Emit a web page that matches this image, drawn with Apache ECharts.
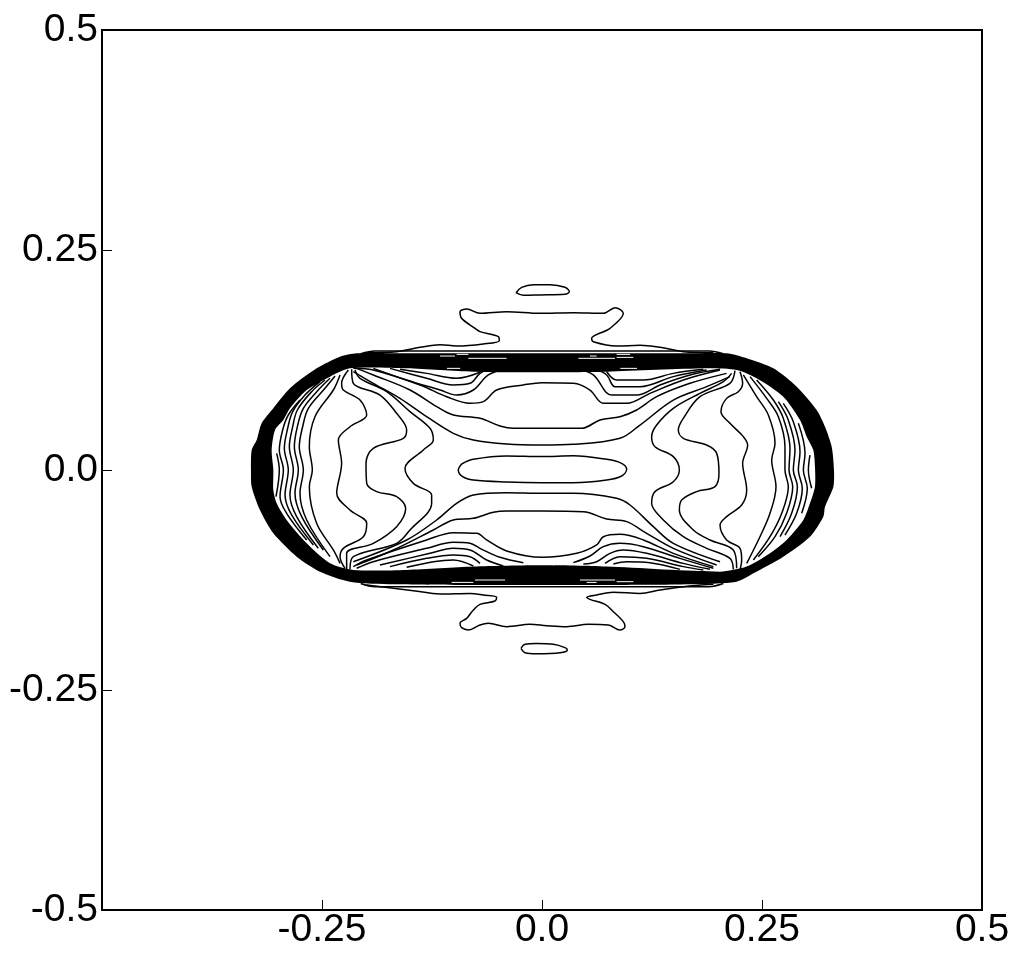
<!DOCTYPE html>
<html>
<head>
<meta charset="utf-8">
<title>contour</title>
<script src="https://cdn.jsdelivr.net/npm/echarts@6/dist/echarts.min.js"></script>
<style>
html, body { margin: 0; padding: 0; background: #fff; }
#chart { width: 1024px; height: 978px; }
</style>
</head>
<body>
<div id="chart"></div>
<script>
// tick labels
var xTickLabels = { '-0.25': '-0.25', '0': '0.0', '0.25': '0.25', '0.5': '0.5' };
var yTickLabels = { '-0.5': '-0.5', '-0.25': '-0.25', '0': '0.0', '0.25': '0.25', '0.5': '0.5' };

// isolated contours above and below the body
var lobeTop = [[-0.0295,0.2015],[-0.0231,0.2076],[-0.0098,0.2106],[0.0091,0.2106],[0.0261,0.2076],[0.0311,0.2027],[0.0261,0.1996],[-0.0023,0.1989],[-0.0212,0.1985],[-0.0295,0.2015]];
var lobeBottom = [[-0.0239,-0.2027],[-0.0193,-0.1981],[-0.0061,-0.1973],[0.0129,-0.1981],[0.0261,-0.2019],[0.0288,-0.2045],[0.0205,-0.2076],[-0.0061,-0.2087],[-0.0193,-0.2076],[-0.0239,-0.2027]];
var outerTop = [[-0.1992,0.1333],[-0.1652,0.1345],[-0.1386,0.1394],[-0.1159,0.1424],[-0.0970,0.1409],[-0.0667,0.1432],[-0.0485,0.1470],[-0.0496,0.1515],[-0.0705,0.1572],[-0.0761,0.1610],[-0.0913,0.1723],[-0.0932,0.1799],[-0.0856,0.1830],[-0.0705,0.1780],[-0.0402,0.1799],[-0.0023,0.1780],[0.0356,0.1788],[0.0697,0.1780],[0.0830,0.1845],[0.0924,0.1780],[0.0773,0.1610],[0.0564,0.1496],[0.0583,0.1458],[0.0848,0.1409],[0.1114,0.1417],[0.1341,0.1394],[0.1606,0.1345],[0.1947,0.1333]];
var outerBottom = [[-0.1992,-0.1307],[-0.1689,-0.1345],[-0.1462,-0.1371],[-0.1159,-0.1409],[-0.0818,-0.1402],[-0.0667,-0.1420],[-0.0515,-0.1447],[-0.0534,-0.1489],[-0.0705,-0.1527],[-0.0780,-0.1591],[-0.0856,-0.1686],[-0.0932,-0.1742],[-0.0913,-0.1792],[-0.0837,-0.1818],[-0.0705,-0.1761],[-0.0610,-0.1742],[-0.0402,-0.1780],[-0.0136,-0.1754],[0.0053,-0.1769],[0.0280,-0.1780],[0.0527,-0.1754],[0.0754,-0.1761],[0.0886,-0.1818],[0.0943,-0.1780],[0.0924,-0.1723],[0.0811,-0.1610],[0.0716,-0.1527],[0.0545,-0.1470],[0.0508,-0.1447],[0.0621,-0.1420],[0.0811,-0.1390],[0.1114,-0.1402],[0.1341,-0.1364],[0.1606,-0.1326],[0.1947,-0.1299]];
var rimTop = [[-0.2060,0.1320],[-0.1900,0.1352],[-0.1,0.1352],[0,0.1352],[0.1,0.1352],[0.1900,0.1352],[0.2060,0.1320]];
var rimBottom = [[-0.2060,-0.1290],[-0.1900,-0.1326],[-0.1,-0.1326],[0,-0.1326],[0.1,-0.1326],[0.1900,-0.1326],[0.2060,-0.1290]];

// the dense ring of contours, outer and inner edge
var ringOuter = [[-0.3307,0],[-0.3299,0.0227],[-0.3242,0.0341],[-0.3186,0.0530],[-0.3053,0.0701],[-0.2864,0.0928],[-0.2561,0.1155],[-0.2295,0.1288],[-0.2106,0.1326],[-0.1614,0.1326],[-0.0780,0.1326],[0,0.1326],[0.0735,0.1326],[0.1682,0.1326],[0.2098,0.1326],[0.2326,0.1269],[0.2629,0.1155],[0.2894,0.0947],[0.3121,0.0682],[0.3216,0.0492],[0.3292,0.0265],[0.3318,0],[0.3311,-0.0189],[0.3216,-0.0417],[0.3197,-0.0530],[0.3045,-0.0758],[0.2742,-0.0985],[0.2402,-0.1174],[0.2212,-0.1269],[0.1682,-0.1299],[0.0735,-0.1307],[0,-0.1307],[-0.0780,-0.1307],[-0.1689,-0.1299],[-0.2182,-0.1269],[-0.2523,-0.1155],[-0.2788,-0.0985],[-0.3053,-0.0720],[-0.3205,-0.0455],[-0.3299,-0.0189]];
var ringInner = [[-0.3053,0],[-0.3072,0.0227],[-0.3034,0.0455],[-0.2939,0.0568],[-0.2864,0.0701],[-0.2674,0.0909],[-0.2409,0.1061],[-0.2182,0.1155],[-0.1538,0.1155],[-0.0780,0.1117],[0,0.1110],[0.0735,0.1117],[0.1871,0.1155],[0.2212,0.1136],[0.2439,0.1042],[0.2742,0.0833],[0.2932,0.0568],[0.3008,0.0379],[0.3083,0.0227],[0.3102,0.0038],[0.3102,-0.0189],[0.3045,-0.0379],[0.2970,-0.0568],[0.2780,-0.0795],[0.2591,-0.0947],[0.2326,-0.1098],[0.2023,-0.1155],[0.0735,-0.1098],[0,-0.1083],[-0.0780,-0.1098],[-0.1538,-0.1136],[-0.2144,-0.1136],[-0.2409,-0.1061],[-0.2674,-0.0833],[-0.2902,-0.0568],[-0.3015,-0.0379],[-0.3053,-0.0227]];

// thin gaps left between lines of the ring
var ringGaps = [
    [[-0.0837,0.1269],[-0.0402,0.1269]], [[-0.0970,0.1314],[-0.0837,0.1314]], [[-0.1159,0.1295],[-0.0989,0.1295]],
    [[0.0413,0.1269],[0.0830,0.1269]], [[0.0545,0.1295],[0.0621,0.1295]], [[0.0848,0.1314],[0.1000,0.1314]], [[0.0848,0.1280],[0.1038,0.1280]],
    [[-0.0761,-0.1250],[-0.0420,-0.1250]], [[-0.1027,-0.1277],[-0.0780,-0.1277]],
    [[0.0432,-0.1250],[0.0830,-0.1250]], [[0.0508,-0.1277],[0.0621,-0.1277]], [[0.0848,-0.1269],[0.1038,-0.1269]],
    [[-0.1080,0.1155],[-0.0930,0.1155]], [[0.0890,0.1155],[0.1080,0.1155]]
];

// arcs across the top of the body
var top5 = [[-0.2106,0.1155],[-0.1917,0.1080],[-0.1500,0.0909],[-0.1197,0.0720],[-0.1008,0.0625],[-0.0705,0.0587],[-0.0477,0.0500],[-0.0326,0.0474],[0,0.0474],[0.0451,0.0474],[0.0659,0.0568],[0.0886,0.0606],[0.1076,0.0682],[0.1303,0.0833],[0.1682,0.0985],[0.2098,0.1098]];
var top4 = [[-0.2144,0.1117],[-0.1917,0.0985],[-0.1614,0.0814],[-0.1311,0.0606],[-0.1008,0.0417],[-0.0780,0.0341],[-0.0402,0.0295],[0,0.0284],[0.0356,0.0292],[0.0886,0.0360],[0.1114,0.0511],[0.1492,0.0795],[0.1871,0.0947],[0.2136,0.1061]];
var top6 = [[-0.2144,0.1155],[-0.1917,0.1136],[-0.1386,0.0966],[-0.1083,0.0833],[-0.0818,0.0758],[-0.0667,0.0777],[-0.0515,0.0909],[-0.0212,0.0966],[0,0.0992],[0.0356,0.0985],[0.0545,0.0909],[0.0697,0.0758],[0.0962,0.0758],[0.1227,0.0871],[0.1606,0.1023],[0.2023,0.1136]];
var top7 = [[-0.1917,0.1155],[-0.1538,0.1023],[-0.1159,0.0909],[-0.0970,0.0852],[-0.0780,0.0909],[-0.0610,0.1080],[-0.0400,0.1150]];
var top7r = [[0.0400,0.1150],[0.0583,0.1080],[0.0792,0.0852],[0.1076,0.0852],[0.1341,0.0966],[0.1682,0.1080],[0.2023,0.1144]];
var top8 = [[-0.1727,0.1155],[-0.1311,0.1042],[-0.1008,0.0966],[-0.0818,0.0985],[-0.0705,0.1098],[-0.0600,0.1150]];
var top8r = [[0.0600,0.1150],[0.0735,0.1080],[0.0830,0.0947],[0.1114,0.0947],[0.1492,0.1061],[0.1871,0.1136]];
var top9 = [[-0.1614,0.1144],[-0.1311,0.1098],[-0.0970,0.1042],[-0.0705,0.1110]];
var top9r = [[0.0735,0.1117],[0.0848,0.1023],[0.1152,0.1023],[0.1492,0.1098],[0.1833,0.1144]];

// arcs across the bottom of the body
var bottom4 = [[-0.2144,-0.1042],[-0.1538,-0.0795],[-0.1197,-0.0568],[-0.0970,-0.0379],[-0.0780,-0.0284],[-0.0402,-0.0258],[0,-0.0265],[0.0356,-0.0265],[0.0848,-0.0322],[0.1000,-0.0398],[0.1265,-0.0644],[0.1492,-0.0833],[0.2023,-0.1042]];
var bottom5 = [[-0.2106,-0.1080],[-0.1689,-0.0909],[-0.1235,-0.0682],[-0.1008,-0.0568],[-0.0780,-0.0549],[-0.0553,-0.0481],[-0.0402,-0.0466],[0,-0.0466],[0.0470,-0.0474],[0.0735,-0.0557],[0.0962,-0.0587],[0.1189,-0.0720],[0.1492,-0.0890],[0.1985,-0.1080]];
var bottom6 = [[-0.2144,-0.1098],[-0.1992,-0.1023],[-0.1311,-0.0795],[-0.1008,-0.0712],[-0.0742,-0.0720],[-0.0629,-0.0795],[-0.0402,-0.0920],[0,-0.0992],[0.0394,-0.0947],[0.0621,-0.0852],[0.0697,-0.0758],[0.0886,-0.0731],[0.1152,-0.0795],[0.1492,-0.0947],[0.1947,-0.1098]];
var bottom7 = [[-0.2106,-0.1117],[-0.1917,-0.1042],[-0.1311,-0.0890],[-0.1008,-0.0822],[-0.0818,-0.0833],[-0.0705,-0.0890],[-0.0477,-0.0992],[-0.0212,-0.1053]];
var bottom7r = [[0.0356,-0.1053],[0.0545,-0.0977],[0.0697,-0.0871],[0.0886,-0.0833],[0.1152,-0.0871],[0.1568,-0.1004],[0.1947,-0.1117]];
var bottom8 = [[-0.1841,-0.1080],[-0.1273,-0.0947],[-0.1008,-0.0890],[-0.0818,-0.0909],[-0.0629,-0.1023],[-0.0439,-0.1091]];
var bottom8r = [[0.0470,-0.1068],[0.0621,-0.1042],[0.0773,-0.0947],[0.0924,-0.0909],[0.1189,-0.0947],[0.1606,-0.1061],[0.1909,-0.1129]];
var bottom9 = [[-0.1727,-0.1098],[-0.1311,-0.1004],[-0.1008,-0.0966],[-0.0818,-0.0985],[-0.0705,-0.1061]];
var bottom9r = [[0.0716,-0.1061],[0.0886,-0.0985],[0.1189,-0.1004],[0.1606,-0.1098],[0.1833,-0.1136]];
var bottom10 = [[-0.1538,-0.1106],[-0.1235,-0.1042],[-0.1008,-0.1023],[-0.0780,-0.1091]];
var bottom10r = [[0.0811,-0.1068],[0.0962,-0.1042],[0.1227,-0.1053],[0.1568,-0.1129]];

// wavy contours on the left and the right
var waveL1 = [[-0.2201,0.1136],[-0.2277,0.0985],[-0.2258,0.0909],[-0.2068,0.0795],[-0.1992,0.0625],[-0.2182,0.0492],[-0.2314,0.0341],[-0.2277,0.0076],[-0.2333,-0.0265],[-0.2182,-0.0455],[-0.1992,-0.0606],[-0.2030,-0.0758],[-0.2258,-0.0890],[-0.2295,-0.0985],[-0.2239,-0.1117]];
var waveL2 = [[-0.2163,0.1144],[-0.2144,0.0985],[-0.1841,0.0852],[-0.1652,0.0644],[-0.1538,0.0455],[-0.1576,0.0360],[-0.1917,0.0246],[-0.2000,0.0076],[-0.1992,-0.0152],[-0.1879,-0.0246],[-0.1652,-0.0303],[-0.1549,-0.0436],[-0.1652,-0.0644],[-0.1917,-0.0833],[-0.2220,-0.0947],[-0.2220,-0.1129]];
var waveL3 = [[-0.2125,0.1136],[-0.2068,0.1042],[-0.1765,0.0890],[-0.1500,0.0663],[-0.1273,0.0474],[-0.1235,0.0341],[-0.1349,0.0227],[-0.1557,0.0019],[-0.1462,-0.0152],[-0.1254,-0.0284],[-0.1254,-0.0379],[-0.1500,-0.0682],[-0.1652,-0.0833],[-0.2144,-0.0985],[-0.2182,-0.1129]];
var waveR1 = [[0.2250,0.1117],[0.2280,0.0985],[0.2231,0.0890],[0.2098,0.0814],[0.2034,0.0663],[0.2136,0.0530],[0.2288,0.0379],[0.2337,0.0284],[0.2280,0.0076],[0.2326,-0.0227],[0.2269,-0.0398],[0.2098,-0.0530],[0.2023,-0.0625],[0.2098,-0.0795],[0.2250,-0.0890],[0.2269,-0.1023],[0.2250,-0.1136]];
var waveR2 = [[0.2193,0.1129],[0.2136,0.0985],[0.1795,0.0833],[0.1606,0.0587],[0.1549,0.0455],[0.1606,0.0360],[0.1871,0.0284],[0.1985,0.0189],[0.2011,-0.0038],[0.1966,-0.0189],[0.1758,-0.0246],[0.1587,-0.0341],[0.1561,-0.0455],[0.1720,-0.0682],[0.1909,-0.0795],[0.2174,-0.0909],[0.2212,-0.1117]];
var waveR3 = [[0.2155,0.1098],[0.2061,0.1004],[0.1795,0.0871],[0.1492,0.0701],[0.1303,0.0511],[0.1246,0.0379],[0.1284,0.0265],[0.1492,0.0152],[0.1561,0],[0.1492,-0.0133],[0.1284,-0.0246],[0.1246,-0.0379],[0.1379,-0.0568],[0.1606,-0.0758],[0.1871,-0.0890],[0.2136,-0.1004],[0.2174,-0.1129]];

// near-vertical contours at the two ends
var leftSide1 = [[-0.2295,0.1080],[-0.2371,0.0909],[-0.2580,0.0606],[-0.2644,0.0265],[-0.2610,0],[-0.2644,-0.0189],[-0.2561,-0.0606],[-0.2371,-0.0909],[-0.2295,-0.1061]];
var leftSide2 = [[-0.2352,0.1068],[-0.2466,0.0928],[-0.2655,0.0701],[-0.2720,0.0492],[-0.2758,0.0265],[-0.2712,0],[-0.2750,-0.0265],[-0.2674,-0.0568],[-0.2409,-0.0985]];
var leftSide3 = [[-0.2409,0.1042],[-0.2542,0.0909],[-0.2712,0.0701],[-0.2780,0.0492],[-0.2814,0.0265],[-0.2769,0],[-0.2807,-0.0265],[-0.2731,-0.0530],[-0.2485,-0.0909]];
var leftSide4 = [[-0.2466,0.1023],[-0.2618,0.0890],[-0.2780,0.0682],[-0.2833,0.0492],[-0.2871,0.0265],[-0.2826,0],[-0.2864,-0.0284],[-0.2788,-0.0530],[-0.2542,-0.0890]];
var leftSide5 = [[-0.2523,0.1004],[-0.2693,0.0852],[-0.2833,0.0663],[-0.2890,0.0474],[-0.2928,0.0246],[-0.2883,0],[-0.2920,-0.0284],[-0.2845,-0.0511],[-0.2598,-0.0852]];
var leftSide6 = [[-0.2750,0.0795],[-0.2883,0.0625],[-0.2947,0.0455],[-0.2985,0.0227],[-0.2939,0],[-0.2977,-0.0303],[-0.2902,-0.0492],[-0.2674,-0.0795]];
var leftSide7 = [[-0.3015,0.0189],[-0.2985,0],[-0.3023,-0.0303]];
var rightSide1 = [[0.2288,0.1080],[0.2439,0.0833],[0.2572,0.0625],[0.2648,0.0303],[0.2610,0.0114],[0.2659,-0.0189],[0.2591,-0.0492],[0.2477,-0.0758],[0.2326,-0.1061]];
var rightSide2 = [[0.2364,0.1061],[0.2553,0.0814],[0.2686,0.0606],[0.2761,0.0265],[0.2761,0],[0.2799,-0.0189],[0.2724,-0.0492],[0.2591,-0.0758],[0.2402,-0.1023]];
var rightSide3 = [[0.2439,0.1023],[0.2629,0.0795],[0.2742,0.0587],[0.2818,0.0246],[0.2807,0],[0.2849,-0.0189],[0.2780,-0.0492],[0.2648,-0.0758],[0.2458,-0.0985]];
var rightSide4 = [[0.2686,0.0777],[0.2799,0.0568],[0.2875,0.0227],[0.2856,0],[0.2902,-0.0189],[0.2837,-0.0492],[0.2705,-0.0758]];
var rightSide5 = [[0.2742,0.0758],[0.2856,0.0549],[0.2932,0.0208],[0.2913,0],[0.2958,-0.0208],[0.2894,-0.0492],[0.2761,-0.0739]];
var rightSide6 = [[0.2913,0.0530],[0.2989,0.0189],[0.2970,0],[0.3015,-0.0208],[0.2951,-0.0492]];
var rightSide7 = [[0.3045,0.0170],[0.3027,0],[0.3064,-0.0208]];

// closed contour in the middle
var centre = [[-0.0913,0.0068],[-0.0951,0],[-0.0902,-0.0076],[-0.0780,-0.0114],[-0.0402,-0.0136],[0,-0.0144],[0.0356,-0.0144],[0.0735,-0.0114],[0.0905,-0.0068],[0.0962,0.0008],[0.0905,0.0076],[0.0735,0.0121],[0.0356,0.0163],[0,0.0152],[-0.0402,0.0159],[-0.0780,0.0121],[-0.0913,0.0068]];

var contours = [lobeTop, lobeBottom, outerTop, outerBottom, rimTop, rimBottom,
    top4, top5, top6, top7, top7r, top8, top8r, top9, top9r,
    bottom4, bottom5, bottom6, bottom7, bottom7r, bottom8, bottom8r, bottom9, bottom9r, bottom10, bottom10r,
    waveL1, waveL2, waveL3, waveR1, waveR2, waveR3,
    leftSide1, leftSide2, leftSide3, leftSide4, leftSide5, leftSide6, leftSide7,
    rightSide1, rightSide2, rightSide3, rightSide4, rightSide5, rightSide6, rightSide7,
    centre];

var labelFont = { color: '#000', fontSize: 39, fontFamily: '"Liberation Sans", Arial, sans-serif' };

// ring: black outer shape with white inner shape on top, contour lines go above both
var series = [{
    type: 'custom',
    coordinateSystem: 'cartesian2d',
    data: [[0, 0]],
    z: 1,
    renderItem: function (params, api) {
        return {
            type: 'group',
            children: [
                { type: 'polygon', shape: { points: ringOuter.map(function (p) { return api.coord(p); }), smooth: 0.25 }, style: { fill: '#000' } },
                { type: 'polygon', shape: { points: ringInner.map(function (p) { return api.coord(p); }), smooth: 0.25 }, style: { fill: '#fff' } }
            ]
        };
    }
}];

contours.forEach(function (c) {
    series.push({
        type: 'line',
        data: c,
        showSymbol: false,
        smooth: 0.35,
        lineStyle: { color: '#000', width: 1.5 },
        z: 2
    });
});

ringGaps.forEach(function (g) {
    series.push({
        type: 'line',
        data: g,
        showSymbol: false,
        lineStyle: { color: '#fff', width: 1 },
        z: 4
    });
});

var myChart = echarts.init(document.getElementById('chart'), null, { renderer: 'canvas' });
myChart.setOption({
    animation: false,
    backgroundColor: '#fff',
    grid: { left: 102, top: 30, width: 880, height: 880, show: true, borderColor: '#000', borderWidth: 2, backgroundColor: 'transparent' },
    xAxis: {
        type: 'value', min: -0.5, max: 0.5, interval: 0.25,
        splitLine: { show: false },
        axisLine: { show: false, onZero: false },
        axisTick: { show: true, inside: true, length: 10, lineStyle: { color: '#000', width: 1 } },
        axisLabel: Object.assign({ margin: 1, showMinLabel: true, showMaxLabel: true, hideOverlap: false, formatter: function (v) { return xTickLabels[String(v)] || ''; } }, labelFont)
    },
    yAxis: {
        type: 'value', min: -0.5, max: 0.5, interval: 0.25,
        splitLine: { show: false },
        axisLine: { show: false, onZero: false },
        axisTick: { show: true, inside: true, length: 10, lineStyle: { color: '#000', width: 1 } },
        axisLabel: Object.assign({ margin: 4, padding: [3, 0, 0, 0], showMinLabel: true, showMaxLabel: true, hideOverlap: false, formatter: function (v) { return yTickLabels[String(v)] || ''; } }, labelFont)
    },
    series: series
});
</script>
</body>
</html>
